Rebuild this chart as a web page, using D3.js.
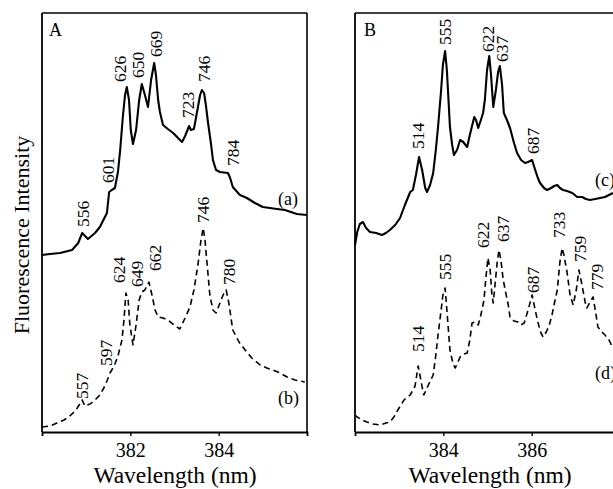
<!DOCTYPE html>
<html><head><meta charset="utf-8">
<script src="https://cdn.jsdelivr.net/npm/d3@7"></script>
<style>
html,body{margin:0;padding:0;background:#fff;}
svg{display:block;font-family:"Liberation Serif","Times New Roman",serif;}
</style></head>
<body><svg id="c" width="613" height="489"></svg>
<script>
// ---------- DATA ----------
// Panel A, spectrum (a) solid
const waveA_a = [380.00,380.18,380.41,380.68,380.82,380.91,381.04,381.20,381.31,381.47,
  381.52,381.58,381.65,381.72,381.77,381.83,381.88,381.92,381.97,382.01,
  382.06,382.13,382.20,382.26,382.33,382.40,382.47,382.54,382.58,382.63,
  382.67,382.74,382.85,382.97,383.08,383.17,383.24,383.33,383.37,383.44,
  383.51,383.58,383.62,383.67,383.71,383.76,383.83,383.87,383.94,384.03,
  384.21,384.26,384.32,384.48,384.64,384.82,385.00,385.16,385.32,385.50,
  385.77,386.00];
const intA_a = [176,177,178,181,188,198,192,198,204,218,
  239,241,243,259,281,314,336,344,331,301,
  287,301,331,347,336,324,351,368,356,331,
  319,306,302,298,293,289,295,305,301,302,
  319,336,341,338,326,308,286,271,261,259,
  258,253,244,236,233,228,224,223,222,221,
  217,216];
// Panel A, spectrum (b) dashed
const waveA_b = [380.00,380.18,380.34,380.50,380.63,380.77,380.91,380.97,381.09,381.20,
  381.31,381.40,381.47,381.54,381.58,381.65,381.72,381.81,381.86,381.88,
  381.90,381.95,381.99,382.06,382.13,382.20,382.26,382.33,382.42,382.49,
  382.56,382.63,382.74,382.85,382.99,383.12,383.24,383.35,383.44,383.53,
  383.60,383.65,383.69,383.74,383.80,383.87,383.94,384.03,384.10,384.17,
  384.23,384.32,384.46,384.60,384.75,384.94,385.09,385.23,385.39,385.55,
  385.73,385.95];
const intA_b = [4,5,8,11,15,21,31,25,27,31,
  36,43,50,58,61,67,75,91,113,126,
  138,131,106,86,106,131,139,141,149,136,
  121,114,113,111,106,102,113,124,141,166,
  191,203,191,166,136,121,118,128,136,141,
  128,101,89,81,73,66,63,61,58,54,
  51,49];
// Panel B, spectrum (c) solid
const waveB_c = [382.00,382.05,382.11,382.18,382.25,382.34,382.48,382.61,382.70,382.79,
  382.91,383.02,383.13,383.25,383.31,383.38,383.45,383.52,383.59,383.63,
  383.70,383.77,383.83,383.88,383.95,383.99,384.04,384.08,384.15,384.20,
  384.24,384.31,384.38,384.45,384.54,384.60,384.70,384.74,384.79,384.85,
  384.90,384.94,384.99,385.04,385.08,385.13,385.19,385.24,385.28,385.33,
  385.37,385.44,385.51,385.60,385.67,385.76,385.85,385.92,386.01,386.08,
  386.14,386.19,386.28,386.35,386.44,386.51,386.58,386.64,386.71,386.80,
  386.92,387.03,387.14,387.23,387.32,387.44,387.55,387.66,387.75,387.84];
const intB_c = [186,199,207,209,203,199,198,196,198,201,
  206,213,226,239,241,256,274,261,243,239,
  246,258,281,304,341,366,380,361,304,286,
  276,281,291,289,284,296,314,311,303,311,
  318,331,361,375,356,324,341,359,365,346,
  318,311,303,288,278,271,268,269,271,261,
  253,248,243,241,243,245,246,243,241,240,
  238,234,234,232,231,232,233,234,236,238];
// Panel B, spectrum (d) dashed
const waveB_d = [382.00,382.05,382.16,382.27,382.41,382.57,382.70,382.79,382.88,382.97,
  383.11,383.25,383.36,383.43,383.47,383.52,383.56,383.65,383.77,383.83,
  383.88,383.95,383.99,384.04,384.08,384.15,384.22,384.27,384.33,384.38,
  384.47,384.54,384.60,384.65,384.72,384.79,384.85,384.92,384.97,385.01,
  385.06,385.10,385.13,385.17,385.22,385.26,385.31,385.35,385.40,385.47,
  385.51,385.60,385.69,385.76,385.83,385.92,386.01,386.08,386.14,386.21,
  386.26,386.33,386.40,386.46,386.53,386.58,386.64,386.69,386.73,386.80,
  386.87,386.94,387.01,387.07,387.14,387.21,387.25,387.32,387.39,387.44,
  387.50,387.59,387.66,387.75,387.84];
const intB_d = [16,14,11,9,7,6,8,9,14,21,
  31,36,45,65,56,44,36,45,56,76,
  96,121,136,143,121,81,67,63,69,74,
  77,78,91,108,109,106,116,131,156,173,
  161,136,128,146,169,181,169,153,141,126,
  114,110,109,106,108,121,136,121,109,98,
  94,99,106,116,131,141,169,183,176,159,
  136,126,141,161,146,129,123,129,134,121,
  104,99,96,91,83];

// Peak labels (text, wavelength, intensity at label foot)
const labA_a = ["556","601","626","650","669","723","746","784"];
const labA_a_w = [380.93,381.49,381.77,382.17,382.58,383.31,383.67,384.32];
const labA_a_i = [204,248,349,353,374,313,349,265];
const labA_b = ["557","597","624","649","662","746","780"];
const labA_b_w = [380.91,381.45,381.74,382.15,382.56,383.65,384.23];
const labA_b_i = [32,65,148,144,160,208,146];
const labB_c = ["514","555","622","637","687"];
const labB_c_w = [383.43,384.04,385.01,385.33,386.03];
const labB_c_i = [282,386,379,369,277];
const labB_d = ["514","555","622","637","687","733","759","779"];
const labB_d_w = [383.43,384.04,384.90,385.35,386.03,386.62,387.10,387.48];
const labB_d_i = [79,151,183,189,138,193,169,141];

const ticksA = [382,384];
const ticksB = [384,386];

// ---------- DRAW ----------
const svg = d3.select("#c");
const y = d3.scaleLinear().domain([0,418]).range([431,13]);
const xA = d3.scaleLinear().domain([380,386]).range([42,307]);
const xB = d3.scaleLinear().domain([382,388]).range([355,620]);

function panel(x, ticks, name, nameX, titleX, hasRight) {
  const g = svg.append("g");
  g.append("line").attr("x1",x.range()[0]).attr("x2",x.range()[0]).attr("y1",13).attr("y2",432)
    .attr("stroke","#000").attr("stroke-width",1.8);
  g.append("line").attr("x1",x.range()[0]).attr("x2",Math.min(x.range()[1],613)).attr("y1",13).attr("y2",13)
    .attr("stroke","#000").attr("stroke-width",1.6);
  if (hasRight) g.append("line").attr("x1",x.range()[1]).attr("x2",x.range()[1]).attr("y1",13).attr("y2",432)
    .attr("stroke","#000").attr("stroke-width",1.6);
  const ax = g.append("g").attr("transform","translate(0,432)")
    .call(d3.axisBottom(x).tickValues(ticks).tickFormat(d3.format("d")).tickSize(4).tickSizeOuter(4).tickPadding(7));
  ax.select(".domain").attr("stroke-width",1.8);
  ax.selectAll(".tick line").attr("stroke-width",1.4);
  ax.selectAll(".tick text").attr("font-family","'Liberation Serif','Times New Roman',serif")
    .attr("font-size",20).attr("fill","#000");
  g.append("text").attr("x",titleX).attr("y",483).attr("text-anchor","middle")
    .attr("font-size",23.5).text("Wavelength (nm)");
  g.append("text").attr("x",nameX).attr("y",36).attr("font-size",18).text(name);
  return g;
}

panel(xA, ticksA, "A", 49, 175, true);
panel(xB, ticksB, "B", 364, 490, false);

function curve(x, w, v, dashed) {
  const pts = w.map((d,i)=>[d, v[i]]);
  const line = d3.line().x(d=>x(d[0])).y(d=>y(d[1])).curve(d3.curveLinear);
  svg.append("path").attr("d", line(pts)).attr("fill","none").attr("stroke","#000")
    .attr("stroke-width", dashed ? 1.6 : 2.1).attr("stroke-linejoin","round")
    .attr("stroke-dasharray", dashed ? "6,4" : null);
}
curve(xA, waveA_a, intA_a, false);
curve(xA, waveA_b, intA_b, true);
curve(xB, waveB_c, intB_c, false);
curve(xB, waveB_d, intB_d, true);

function labels(x, t, w, v) {
  t.forEach((s,i)=>{
    svg.append("text").attr("transform",`translate(${x(w[i])},${y(v[i])}) rotate(-90)`)
      .attr("dy","0.35em").attr("font-size",17.5).attr("fill","#000").text(s);
  });
}
labels(xA, labA_a, labA_a_w, labA_a_i);
labels(xA, labA_b, labA_b_w, labA_b_i);
labels(xB, labB_c, labB_c_w, labB_c_i);
labels(xB, labB_d, labB_d_w, labB_d_i);

// series tags
svg.append("text").attr("x",278).attr("y",205).attr("font-size",18).text("(a)");
svg.append("text").attr("x",278).attr("y",404).attr("font-size",18).text("(b)");
svg.append("text").attr("x",595).attr("y",186).attr("font-size",18).text("(c)");
svg.append("text").attr("x",595).attr("y",379).attr("font-size",18).text("(d)");

// y-axis title
svg.append("text").attr("transform","translate(29,235) rotate(-90)").attr("text-anchor","middle")
  .attr("font-size",22).text("Fluorescence Intensity");
</script></body></html>
